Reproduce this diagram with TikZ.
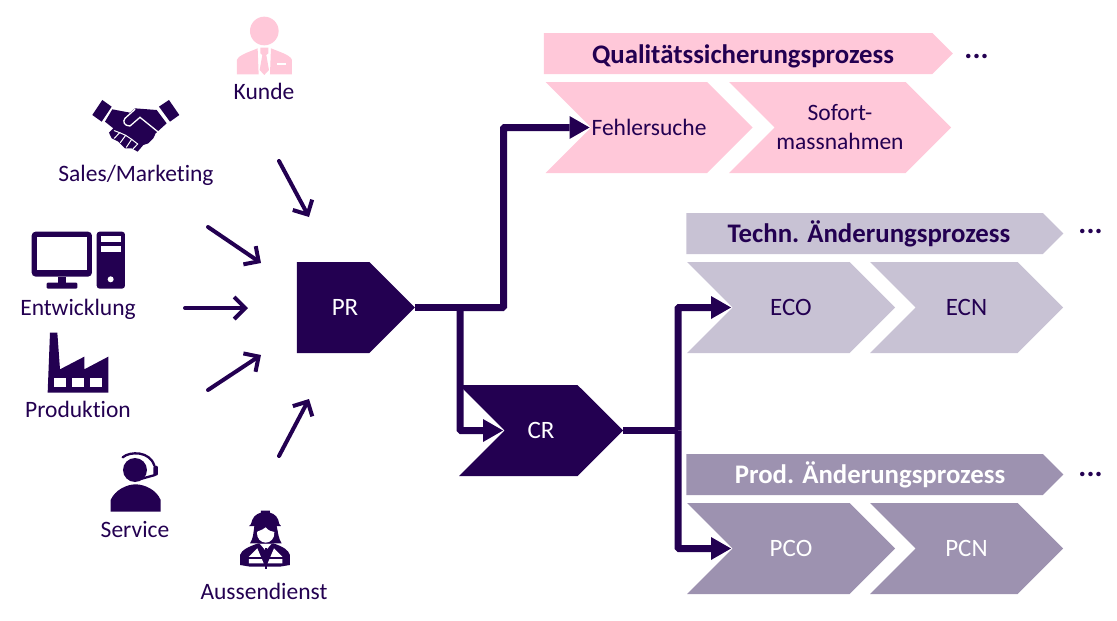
\documentclass[tikz,border=0pt]{standalone}
\usepackage{fontspec}
\setmainfont[Ligatures=NoCommon]{Carlito}
\usetikzlibrary{shapes.symbols,arrows.meta}
\definecolor{darkviolet}{HTML}{230051}
\definecolor{rosa}{HTML}{FFC8D9}
\definecolor{lightviolet}{HTML}{C8C2D4}
\definecolor{midviolet}{HTML}{9D92B0}
\tikzset{
    base/.style={signal,signal pointer angle=90,inner sep=0pt,outer sep=0pt,align=center,font=\fontsize{23.5}{29}\selectfont,text=darkviolet},
    prozess/.style={base,signal to=east,signal from=west,minimum height=91pt},
    kurz/.style={font=\fontsize{25}{30}\selectfont},
    kopf/.style={base,signal to=east,minimum height=41pt,font=\fontsize{26.8}{30}\selectfont\bfseries},
    akteur/.style={text=darkviolet,font=\fontsize{23.5}{28}\selectfont},
    punkte/.style={text=darkviolet,font=\fontsize{30}{30}\selectfont\bfseries},
    pfeil/.style={draw=darkviolet,line width=4pt,line cap=round,-{Straight Barb[length=11pt,width=22pt,line width=4pt]}},
    fluss/.style={draw=darkviolet,line width=7pt,rounded corners=1pt,-{Triangle[length=20pt,width=23pt,line width=0pt]},shorten >=1.5pt},
    ast/.style={draw=darkviolet,line width=7pt},
    icon/.style={fill=darkviolet,draw=none},
    fein/.style={x=0.3333pt,y=-0.3333pt}
}
\begin{document}
\begin{tikzpicture}[x=1pt,y=-1pt]
    \useasboundingbox (0,0) rectangle (1117,621);

    \node[kopf,fill=rosa,minimum width=409pt] (QS) at (738,53.5) {\hspace*{10pt}\raisebox{-2.5pt}[\height][\depth]{Qualitätssicherungsprozess}};
    \node[prozess,fill=rosa,minimum width=207pt] (FS) at (649,127.5) {Fehlersuche};
    \node[prozess,fill=rosa,minimum width=222pt] (SM) at (840,127.5) {Sofort-\\massnahmen};
    \node[kopf,fill=lightviolet,minimum width=377pt] (TA) at (864.5,233.5) {\hspace*{9pt}Techn. Änderungsprozess};
    \node[prozess,kurz,fill=lightviolet,minimum width=208pt] (ECO) at (791,307.5) {ECO};
    \node[prozess,kurz,fill=lightviolet,minimum width=193pt] (ECN) at (966.5,307.5) {ECN};
    \node[kopf,fill=midviolet,text=white,minimum width=377pt] (PA) at (864.5,474.5) {\hspace*{11pt}Prod. Änderungsprozess};
    \node[prozess,kurz,fill=midviolet,text=white,minimum width=208pt] (PCO) at (791,548.5) {PCO};
    \node[prozess,kurz,fill=midviolet,text=white,minimum width=193pt] (PCN) at (966.5,548.5) {PCN};
    \node[base,kurz,signal to=east,fill=darkviolet,text=white,minimum width=118pt,minimum height=91pt] (PR) at (333,307.5) {\hspace*{24pt}PR};
    \node[prozess,kurz,fill=darkviolet,text=white,minimum width=164pt] (CR) at (541,430.5) {CR};

    \node[punkte] (QSmehr) at (976.5,56.5) {...};
    \node[punkte] (TAmehr) at (1090.5,231.5) {...};
    \node[punkte] (PAmehr) at (1090.5,474.5) {...};

    \node[akteur] (kunde) at (264,91) {Kunde};
    \node[akteur] (sales) at (136,175) {Sales/Marketing};
    \node[akteur] (entw) at (78,309) {Entwicklung};
    \node[akteur] (prod) at (78,409) {Produktion};
    \node[akteur] (service) at (135,529) {Service};
    \node[akteur] (aussen) at (264,591) {Aussendienst};

    \coordinate (abzweigPR) at (460,307.5);
    \coordinate (abzweigCR) at (678,430.5);
    \draw[ast] (PR.east) -- (abzweigPR);
    \draw[fluss] (abzweigPR) -- (503.5,307.5) |- (FS.west);
    \draw[fluss] (abzweigPR) |- (CR.west);
    \draw[ast] (CR.east) -- (abzweigCR);
    \draw[fluss] (abzweigCR) |- (ECO.west);
    \draw[fluss] (abzweigCR) |- (PCO.west);

    \coordinate (kundeA) at (279,161);
    \coordinate (kundeB) at (309,217);
    \coordinate (salesA) at (208,227);
    \coordinate (salesB) at (261,263);
    \coordinate (entwA) at (185,308);
    \coordinate (entwB) at (248,308);
    \coordinate (prodA) at (208,390);
    \coordinate (prodB) at (261,355);
    \coordinate (aussenA) at (279,456);
    \coordinate (aussenB) at (309,399);
    \foreach \von/\nach in {kundeA/kundeB,salesA/salesB,entwA/entwB,prodA/prodB,aussenA/aussenB}
        \draw[pfeil] (\von) -- (\nach);

    \begin{scope}[fein]
        \fill[rosa] (793,93) circle (43);
        \fill[rosa] (711,223) -- (711,180) .. controls (715,165) and (750,155) .. (773,145) -- (776,223) -- cycle;
        \fill[rosa] (876,223) -- (876,180) .. controls (872,165) and (837,155) .. (813,145) -- (810,223) -- cycle;
        \fill[rosa] (781,143) -- (805,143) -- (805,160) -- (799,165) -- (807,210) -- (793,225) -- (779,210) -- (787,165) -- (781,160) -- cycle;
        \fill[white] (832,190) rectangle (858,195);
    \end{scope}

    \begin{scope}[shift={(85,90)},fein]
        \fill[icon] (52,30) -- (80,50) -- (50,95) -- (22,75) -- cycle;
        \fill[icon] (252,30) -- (283,75) -- (255,95) -- (222,50) -- cycle;
        \fill[icon] (82,58) -- (135,68) -- (150,55) -- (215,60) -- (245,100) -- (212,130) -- (205,145) -- (190,160) -- (175,165) -- (158,185) -- (140,175) -- (120,175) -- (100,155) -- (80,145) -- (72,128) -- (85,115) -- (60,95) -- cycle;
        \draw[white,line width=1.3pt,line cap=round] (150,58) -- (120,85) .. controls (112,95) and (118,108) .. (135,108) -- (165,82) -- (222,128);
        \draw[white,line width=1pt,line cap=round] (88,122) -- (104,128) -- (88,145);
        \draw[white,line width=1pt,line cap=round] (104,128) -- (122,136) -- (106,158);
        \draw[white,line width=1pt,line cap=round] (122,136) -- (140,148) -- (124,172);
        \draw[white,line width=1pt,line cap=round] (140,148) -- (158,162) -- (143,178);
    \end{scope}

    \begin{scope}[fein]
        \fill[icon,rounded corners=4pt] (95,695) rectangle (276,830);
        \fill[white] (110,710) rectangle (262,811);
        \fill[icon] (175,830) rectangle (197,850);
        \fill[icon,rounded corners=1pt] (140,848) rectangle (232,866);
        \fill[icon,rounded corners=3pt] (290,695) rectangle (375,866);
        \fill[white] (302,708) rectangle (362,725);
        \fill[white] (302,738) rectangle (362,755);
        \fill[white] (332,838) circle (9);
    \end{scope}

    \begin{scope}[shift={(0,310)},fein]
        \fill[icon] (143,248) -- (150,68) -- (172,68) -- (180,178) -- (253,140) -- (253,178) -- (325,140) -- (325,248) -- cycle;
        \fill[white] (163,205) rectangle (197,230);
        \fill[white] (217,205) rectangle (251,230);
        \fill[white] (271,205) rectangle (305,230);
    \end{scope}

    \begin{scope}[shift={(100,445)},fein]
        \fill[icon] (105,75) circle (36);
        \draw[darkviolet,line width=2.3pt,line cap=round] (68,37) .. controls (90,18) and (150,18) .. (163,62);
        \fill[icon,rounded corners=2pt] (160,62) rectangle (174,92);
        \draw[darkviolet,line width=2.3pt,line cap=round] (165,90) -- (122,102);
        \fill[icon] (32,200) -- (32,165) .. controls (45,135) and (80,118) .. (107,118) .. controls (134,118) and (170,135) .. (182,165) -- (182,200) -- cycle;
    \end{scope}

    \begin{scope}[shift={(225,500)},fein]
        \fill[icon] (72,78) -- (168,78) -- (163,72) .. controls (160,52) and (150,42) .. (135,38) -- (135,32) -- (108,32) -- (108,38) .. controls (92,42) and (82,52) .. (78,72) -- cycle;
        \fill[icon] (88,78) -- (155,78) .. controls (160,100) and (160,115) .. (170,130) -- (75,130) .. controls (85,115) and (85,100) .. (88,78) -- cycle;
        \fill[white] (122,82) .. controls (110,92) and (100,92) .. (96,96) .. controls (94,115) and (108,128) .. (122,128) .. controls (136,128) and (150,115) .. (148,96) .. controls (140,95) and (130,92) .. (122,82) -- cycle;
        \fill[icon] (45,195) -- (45,165) .. controls (50,150) and (70,140) .. (100,130) -- (145,130) .. controls (175,140) and (190,150) .. (195,165) -- (195,195) -- (165,200) -- (75,200) -- cycle;
        \fill[white] (72,190) -- (72,170) -- (97,145) -- (116,190) -- cycle;
        \fill[white] (172,190) -- (172,170) -- (147,145) -- (128,190) -- cycle;
        \fill[white] (105,132) -- (122,152) -- (139,132) -- cycle;
        \fill[icon] (70,170) rectangle (175,176);
        \fill[icon] (119,145) rectangle (125,208);
    \end{scope}
\end{tikzpicture}
\end{document}
